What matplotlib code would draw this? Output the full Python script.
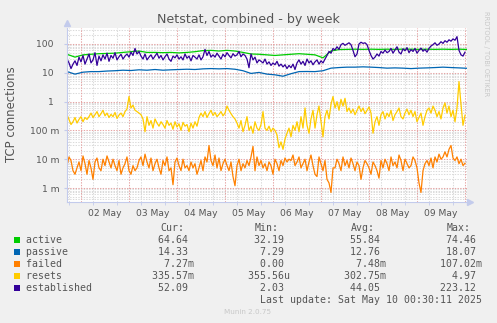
import numpy as np
import matplotlib
matplotlib.use("Agg")
import matplotlib.pyplot as plt
import matplotlib.dates as mdates
from matplotlib.patches import Rectangle

W, H = 497, 323

# 1時間ごとの値 (2025-05-01 17:00 から)
established = [
    30, 22, 14, 20, 26, 18,
    35, 24, 40, 20, 30, 45, 22,
    28, 50, 18, 38, 26, 42, 30, 48,
    25, 40, 32, 50, 28, 36, 44, 30, 38, 45,
    35, 52, 40, 70, 45, 55,
    38, 30, 45, 28, 35, 42, 30, 38, 48,
    32, 40, 28, 36, 45, 30, 25, 38, 33, 42,
    30, 36, 28, 45, 32, 38, 26, 40, 35, 30, 42, 28, 36,
    65, 40, 55, 35,
    42, 35, 48, 38, 30, 44, 36, 50, 40, 33, 46, 38, 42, 55, 36, 45, 40, 30,
    15, 45, 28, 35, 22,
    28, 25, 22, 30, 20, 24, 18, 22, 19, 25, 17, 20, 16, 19, 14, 18, 15, 20, 13, 22,
    28, 20, 25, 18, 30, 22, 26, 19, 24, 28, 20, 26, 22,
    30, 40, 55, 48, 70, 62,
    80, 65, 95, 105, 90, 100, 110, 95, 60, 36, 45, 100, 115, 105,
    110, 95, 60, 40, 30, 35, 45, 38, 55, 48, 62, 50,
    55, 70, 48, 62, 80, 52, 45, 68, 58, 75, 50, 64, 55, 70, 48, 60, 72, 56, 65, 52,
    70, 85, 95, 110, 90, 100, 120, 105, 130, 115, 140, 125, 150, 135, 180,
    60, 42, 38, 52.09,
]
resets = [
    0.35, 0.24, 0.16, 0.2, 0.28, 0.18, 0.24, 0.3, 0.2, 0.28, 0.24,
    0.3, 0.4, 0.28, 0.35, 0.45, 0.3, 0.38, 0.5, 0.32, 0.4, 0.28, 0.36, 0.3, 0.42, 0.26, 0.34, 0.4, 0.3, 0.45, 0.55,
    1.5, 0.6, 0.75,
    0.5, 0.45, 0.4, 0.35, 0.25,
    0.09, 0.3, 0.15, 0.22, 0.12, 0.25, 0.18, 0.14, 0.2, 0.16, 0.12, 0.22, 0.15, 0.18, 0.11, 0.2, 0.13, 0.17, 0.1, 0.19,
    0.14, 0.16, 0.09, 0.18, 0.12, 0.2, 0.14, 0.28,
    0.4, 0.3, 0.45, 0.28, 0.38, 0.5, 0.33, 0.42, 0.3, 0.36, 0.45, 0.32, 0.4, 0.7, 0.5, 0.38, 0.3, 0.25,
    0.18, 0.12, 0.22, 0.09, 0.15, 0.3, 0.1, 0.14, 0.08, 0.2, 0.12, 0.1, 0.16, 0.45, 0.12, 0.1, 0.14, 0.09, 0.12, 0.1, 0.07,
    0.025, 0.04, 0.022, 0.05,
    0.08, 0.12, 0.06, 0.15, 0.1, 0.2, 0.09, 0.3, 0.12, 0.6, 0.15, 0.08, 0.25, 0.5, 0.12, 0.35, 0.7, 0.2, 0.06, 0.3, 0.5,
    0.25, 0.8, 1.5, 0.6, 1.0, 0.5, 1.2, 0.7, 1.3, 0.45,
    0.6, 0.4, 0.55, 0.35, 0.5, 0.7, 0.45, 0.6, 0.38, 0.5,
    0.65, 0.4, 0.08, 0.2, 0.3, 0.15, 0.35, 0.45, 0.25, 0.4,
    0.3, 0.5, 0.22, 0.35, 0.45, 0.6, 0.3, 0.25, 0.4, 0.55,
    0.35, 0.5, 0.3, 0.45, 0.2, 0.28, 0.4, 0.15, 0.3, 0.5,
    0.6, 0.4, 0.7, 0.5, 0.3, 0.45, 0.25, 0.6, 0.9, 0.4,
    0.7, 0.3, 0.5, 0.2, 0.6, 4.97, 0.8, 0.15, 0.33557,
]
failed = [
    0.006, 0.012, 0.009, 0.004, 0.003, 0.005, 0.008, 0.004, 0.013, 0.007, 0.003, 0.009, 0.005, 0.002, 0.008, 0.011, 0.005, 0.004, 0.01, 0.006,
    0.013, 0.008, 0.005, 0.01, 0.006, 0.004, 0.009, 0.003, 0.005, 0.007, 0.012, 0.004, 0.003, 0.006, 0.004, 0.005, 0.009, 0.012, 0.006, 0.015,
    0.008, 0.005, 0.011, 0.004, 0.007, 0.01, 0.005, 0.003, 0.009, 0.006, 0.012, 0.004, 0.005, 0.0013, 0.008, 0.011, 0.006, 0.004, 0.01, 0.005,
    0.006, 0.004, 0.008, 0.005, 0.007, 0.003, 0.005, 0.009, 0.004, 0.012, 0.008, 0.03, 0.009, 0.006, 0.014, 0.005, 0.011, 0.004, 0.007, 0.01,
    0.006, 0.004, 0.008, 0.0025, 0.0012, 0.006, 0.01, 0.004, 0.007, 0.005, 0.009, 0.006, 0.012, 0.028, 0.004, 0.012, 0.006, 0.009, 0.005, 0.007,
    0.004, 0.008, 0.006, 0.003, 0.01, 0.007, 0.004, 0.009, 0.006, 0.011, 0.008, 0.01, 0.009, 0.014, 0.006, 0.008, 0.012, 0.005, 0.007, 0.01,
    0.004, 0.008, 0.014, 0.006, 0.003, 0.0025, 0.012, 0.007, 0.004, 0.009, 0.002, 0.0015, 0.0007, 0.005, 0.005, 0.01, 0.007, 0.004, 0.012, 0.006,
    0.009, 0.005, 0.011, 0.007, 0.004, 0.008, 0.006, 0.002, 0.005, 0.009, 0.007, 0.005, 0.003, 0.008, 0.006, 0.004, 0.0022, 0.009, 0.005, 0.01,
    0.007, 0.004, 0.012, 0.006, 0.008, 0.005, 0.014, 0.009, 0.004, 0.01, 0.007, 0.005, 0.006, 0.012, 0.009, 0.005, 0.0015, 0.0007, 0.004, 0.007,
    0.009, 0.006, 0.011, 0.005, 0.012, 0.008, 0.015, 0.01, 0.012, 0.018, 0.012, 0.022, 0.03, 0.011, 0.009, 0.012, 0.007, 0.01, 0.006, 0.00727,
]
# 4時間ごと
active = [44, 35, 42, 44, 46, 47, 48, 51, 54, 57, 51, 51, 50, 51, 49, 51, 54, 59, 60, 57,
          60, 57, 51, 45, 44, 42, 40, 42, 44, 46, 44, 42, 33, 57, 64, 65, 66, 65, 66, 65,
          66, 65, 66, 66, 65, 66, 65, 66, 65, 66, 64.64]
passive = [11, 9, 10.5, 11, 11, 11.5, 11.8, 12.3, 12, 12.7, 12.3, 13, 12.3, 12.7, 13, 13.3, 13, 13.7, 14, 13.7,
           14, 13.3, 11.8, 9.5, 10.3, 9, 8.5, 7.6, 9.3, 11, 11.1, 11, 11.8, 14.5, 15.2, 15.7, 15.7, 16.1, 15.7, 15.2,
           14.5, 14.8, 14.5, 14, 14.5, 14.8, 15.2, 15.7, 15.2, 14.8, 14.33]

names = ["active", "passive", "failed", "resets", "established"]
colors = ["#00CC00", "#0066B3", "#FF8000", "#FFCC00", "#330099"]
cur_vals = [64.64, 14.33, 0.00727, 0.33557, 52.09]
min_vals = [32.19, 7.29, 0.0, 355.56e-6, 2.03]
avg_vals = [55.84, 12.76, 0.00748, 0.30275, 44.05]
max_vals = [74.46, 18.07, 0.10702, 4.97, 223.12]

day_labels = ["02 May", "03 May", "04 May", "05 May", "06 May", "07 May", "08 May", "09 May"]
ytick_vals = [100, 10, 1, 0.1, 0.01, 0.001]
ytick_labels = ["100  ", "10  ", "1  ", "100 m", "10 m", "1 m"]

TXT = "#555555"
AXIS = "#c3cbec"


def si(v):
    if v == 0:
        return "0.00", " "
    if v < 1e-3:
        return f"{v * 1e6:.2f}", "u"
    if v < 1:
        return f"{v * 1e3:.2f}", "m"
    return f"{v:.2f}", " "


def main():
    t0 = np.datetime64("2025-05-01T17:00")
    t_h = t0 + np.arange(len(established)) * np.timedelta64(1, "h")
    t_4h = t0 + np.arange(len(active)) * np.timedelta64(4, "h")

    fig = plt.figure(figsize=(W / 100, H / 100), dpi=100)
    fig.patch.set_facecolor("#F0F0F0")
    ax = fig.add_axes([67 / W, 1 - 202 / H, 400 / W, 174 / H])
    ax.set_facecolor("white")
    ax.set_yscale("log")
    ax.set_ylim(3.27e-4, 359)
    ax.set_xlim(t0, t0 + np.timedelta64(200, "h"))

    # グリッド
    ax.yaxis.set_minor_locator(matplotlib.ticker.LogLocator(base=10, subs=np.arange(2, 10)))
    ax.yaxis.set_minor_formatter(matplotlib.ticker.NullFormatter())
    ax.set_yticks(ytick_vals)
    ax.set_yticklabels(ytick_labels)
    ax.xaxis.set_minor_locator(mdates.HourLocator(byhour=[6, 12, 18]))
    noons = [np.datetime64("2025-05-02T12:00") + np.timedelta64(i, "D") for i in range(len(day_labels))]
    ax.set_xticks(noons)
    ax.set_xticklabels(day_labels)
    dot = (0, (1.3, 1.3))
    ax.yaxis.grid(True, which="minor", color="#dadada", lw=0.75, ls=dot)
    ax.xaxis.grid(True, which="minor", color="#dadada", lw=0.75, ls=dot)
    ax.yaxis.grid(True, which="major", color="#e6a4a4", lw=0.75, ls=dot)
    for d in range(9):
        ax.axvline(np.datetime64("2025-05-02T00:00") + np.timedelta64(d, "D"),
                   color="#e6a4a4", lw=0.75, ls=dot, zorder=1)
    ax.set_axisbelow(True)

    ax.tick_params(axis="both", which="major", labelsize=6.6, labelcolor=TXT, color=AXIS)
    ax.tick_params(axis="y", which="major", length=2, pad=3.5)
    ax.tick_params(axis="y", which="minor", length=0)
    ax.tick_params(axis="x", which="major", length=0, pad=5)
    ax.tick_params(axis="x", which="minor", length=2, color=AXIS)
    for s in ["top", "right"]:
        ax.spines[s].set_visible(False)
    for s in ["left", "bottom"]:
        ax.spines[s].set_color(AXIS)
        ax.spines[s].set_linewidth(0.8)
    ax.plot([0], [1.03], marker="^", ms=4, color=AXIS, transform=ax.transAxes, clip_on=False)
    ax.plot([1.008], [0], marker=">", ms=4, color=AXIS, transform=ax.transAxes, clip_on=False)

    ax.plot(t_4h, active, color=colors[0], lw=0.9)
    ax.plot(t_4h, passive, color=colors[1], lw=0.9)
    ax.plot(t_h, failed, color=colors[2], lw=0.9)
    ax.plot(t_h, resets, color=colors[3], lw=0.9)
    ax.plot(t_h, established, color=colors[4], lw=0.9)

    fig.text(248 / W, 1 - 19 / H, "Netstat, combined - by week", ha="center", va="center",
             fontsize=9.1, color=TXT)
    fig.text(12 / W, 1 - 114 / H, "TCP connections", rotation=90, ha="center", va="center",
             fontsize=8.4, color=TXT)
    fig.text(486 / W, 1 - 54 / H, "RRDTOOL / TOBI OETIKER", rotation=-90, ha="center", va="center",
             fontsize=4.8, color="#c8c8c8")

    # 凡例
    mono = dict(family="DejaVu Sans Mono", fontsize=7.1, color=TXT, va="center")
    for x, h in zip([160, 255, 351, 447], ["Cur:", "Min:", "Avg:", "Max:"]):
        fig.text(x / W, 1 - 228 / H, h, ha="left", **mono)
    for i, name in enumerate(names):
        y = 240 + 12 * i
        fig.add_artist(Rectangle((14 / W, 1 - (y + 3) / H), 6 / W, 6 / H,
                                 transform=fig.transFigure, facecolor=colors[i], edgecolor="none"))
        row = f"{name:<12}"
        for v in [cur_vals[i], min_vals[i], avg_vals[i], max_vals[i]]:
            num, unit = si(v)
            row += f"{num:>15}{unit}"
        fig.text(26 / W, 1 - y / H, row, ha="left", **mono)
    fig.text(482 / W, 1 - 300 / H, "Last update: Sat May 10 00:30:11 2025", ha="right", **mono)
    fig.text(248 / W, 1 - 312 / H, "Munin 2.0.75", ha="center", va="center",
             fontsize=5.2, color="#c8c8c8")

    fig.savefig("out.png", dpi=100, facecolor=fig.get_facecolor())


if __name__ == "__main__":
    main()
